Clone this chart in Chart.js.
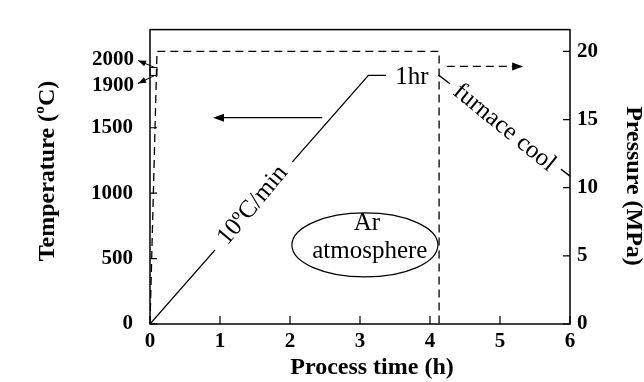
<!DOCTYPE html>
<html>
<head>
<meta charset="utf-8">
<script src="https://cdn.jsdelivr.net/npm/chart.js@4.4.0/dist/chart.umd.min.js"></script>
<style>
  html, body { margin: 0; padding: 0; background: #fff; }
</style>
</head>
<body>
<canvas id="processChart" width="644" height="382"></canvas>
<script>
// Process schedule
const timeTicks = [0, 1, 2, 3, 4, 5, 6];
const tempTicks = [0, 500, 1000, 1500];
const pressureTicks = [0, 5, 10, 15, 20];

// temperature (left axis): heat at 10 C/min, hold 1 h, furnace cool
const tempTime = [0, 3.12, 4.13, 6];
const tempValues = [0, 1900, 1900, 1130];

// pressure (right axis)
const pressureTime = [0, 0.1, 4.13, 4.13];
const pressureValues = [0, 20, 20, 0];

const serif = '"Liberation Serif", "Times New Roman", serif';

// text written along the temperature curve, white box hides the line under it
const curveNotes = [
    { text: '10ºC/min', x: 1.457, y: 912, angle: -50.2, gap: 117 },
    { text: '1hr', x: 3.743, y: 1890, angle: 0, gap: 52 },
    { text: 'furnace cool', x: 5.071, y: 1505, angle: 39.1, gap: 140 }
];

// axis pointers: solid one to temperature, dashed one to pressure
const arrows = [
    { from: [2.46, 1577], to: [0.9, 1577], axis: 'y', dash: [] },
    { from: [4.24, 18.9], to: [5.33, 18.9], axis: 'y2', dash: [8, 5] }
];

const gasLabel = { x: 3.07, y: 604, rx: 73, ry: 32, lines: [['Ar', 3.1, 767], ['atmosphere', 3.14, 557]] };

function toPoints(xs, ys) {
    return xs.map((x, i) => ({ x: x, y: ys[i] }));
}

function arrowHead(ctx, x1, y1, x2, y2, len, half) {
    const a = Math.atan2(y2 - y1, x2 - x1);
    ctx.beginPath();
    ctx.moveTo(x2, y2);
    ctx.lineTo(x2 - len * Math.cos(a) + half * Math.sin(a), y2 - len * Math.sin(a) - half * Math.cos(a));
    ctx.lineTo(x2 - len * Math.cos(a) - half * Math.sin(a), y2 - len * Math.sin(a) + half * Math.cos(a));
    ctx.closePath();
    ctx.fill();
}

const decorations = {
    id: 'decorations',
    afterDatasetsDraw(chart) {
        const ctx = chart.ctx;
        const area = chart.chartArea;
        const sx = chart.scales.x, sy = chart.scales.y, sp = chart.scales.y2;
        ctx.save();
        ctx.strokeStyle = '#000';
        ctx.fillStyle = '#000';

        // frame
        ctx.lineWidth = 1.5;
        ctx.strokeRect(area.left, area.top, area.right - area.left, area.bottom - area.top);

        // inward tick marks
        ctx.lineWidth = 1.2;
        ctx.beginPath();
        sx.ticks.forEach(t => {
            const px = sx.getPixelForValue(t.value);
            ctx.moveTo(px, area.bottom); ctx.lineTo(px, area.bottom - 8);
        });
        sy.ticks.forEach(t => {
            const py = sy.getPixelForValue(t.value);
            ctx.moveTo(area.left, py); ctx.lineTo(area.left + 7, py);
        });
        sp.ticks.forEach(t => {
            const py = sp.getPixelForValue(t.value);
            ctx.moveTo(area.right, py); ctx.lineTo(area.right - 7, py);
        });
        ctx.stroke();

        // 1900 / 2000 bracket with pointers to their labels
        const yLo = sy.getPixelForValue(1900);
        const yHi = sy.getPixelForValue(1960);
        ctx.lineWidth = 1;
        ctx.strokeRect(area.left, yHi, 7, yLo - yHi);
        ctx.beginPath();
        ctx.moveTo(area.left + 5, yHi); ctx.lineTo(area.left - 12, yHi - 7);
        ctx.moveTo(area.left + 5, yLo); ctx.lineTo(area.left - 12, yLo + 8);
        ctx.stroke();
        arrowHead(ctx, area.left + 5, yHi, area.left - 12, yHi - 7, 8, 3);
        arrowHead(ctx, area.left + 5, yLo, area.left - 12, yLo + 8, 8, 3);
        ctx.font = 'bold 21px ' + serif;
        ctx.textAlign = 'right';
        ctx.textBaseline = 'middle';
        ctx.fillText('2000', area.left - 16, yHi - 8);
        ctx.fillText('1900', area.left - 16, yLo + 10);

        // arrows pointing at the axes
        ctx.lineWidth = 1.3;
        arrows.forEach(a => {
            const s = chart.scales[a.axis];
            const x1 = sx.getPixelForValue(a.from[0]), y1 = s.getPixelForValue(a.from[1]);
            const x2 = sx.getPixelForValue(a.to[0]), y2 = s.getPixelForValue(a.to[1]);
            const a0 = Math.atan2(y2 - y1, x2 - x1);
            ctx.setLineDash(a.dash);
            ctx.beginPath();
            ctx.moveTo(x1, y1);
            ctx.lineTo(x2 - 8 * Math.cos(a0), y2 - 8 * Math.sin(a0));
            ctx.stroke();
            ctx.setLineDash([]);
            arrowHead(ctx, x1, y1, x2, y2, 11, 4);
        });

        // notes along the curve
        ctx.font = '25px ' + serif;
        ctx.textAlign = 'center';
        ctx.textBaseline = 'middle';
        curveNotes.forEach(n => {
            const px = sx.getPixelForValue(n.x), py = sy.getPixelForValue(n.y);
            ctx.save();
            ctx.translate(px, py);
            ctx.rotate(n.angle * Math.PI / 180);
            ctx.fillStyle = '#fff';
            ctx.fillRect(-n.gap / 2, -13, n.gap, 26);
            ctx.fillStyle = '#000';
            ctx.fillText(n.text, 0, 1);
            ctx.restore();
        });

        // Ar atmosphere ellipse
        ctx.lineWidth = 1.2;
        ctx.beginPath();
        ctx.ellipse(sx.getPixelForValue(gasLabel.x), sy.getPixelForValue(gasLabel.y), gasLabel.rx, gasLabel.ry, 0, 0, Math.PI * 2);
        ctx.stroke();
        gasLabel.lines.forEach(l => {
            ctx.fillText(l[0], sx.getPixelForValue(l[1]), sy.getPixelForValue(l[2]));
        });

        // axis titles
        ctx.font = 'bold 24px ' + serif;
        ctx.fillText('Process time (h)', 372, 368);
        ctx.save();
        ctx.translate(48, 171);
        ctx.rotate(-Math.PI / 2);
        ctx.fillText('Temperature (ºC)', 0, 0);
        ctx.restore();
        ctx.save();
        ctx.translate(633, 186);
        ctx.rotate(Math.PI / 2);
        ctx.fillText('Pressure (MPa)', 0, 0);
        ctx.restore();

        ctx.restore();
    }
};

function fixedTicks(list) {
    return scale => { scale.ticks = list.map(v => ({ value: v })); };
}

const tickFont = { family: serif, size: 21, weight: 'bold' };
const plainLabel = v => String(v);

const ctx = document.getElementById('processChart').getContext('2d');
const processChart = new Chart(ctx, {
    type: 'scatter',
    data: {
        datasets: [{
            label: 'Temperature',
            data: toPoints(tempTime, tempValues),
            yAxisID: 'y',
            showLine: true,
            borderColor: '#000',
            borderWidth: 1.3,
            pointRadius: 0,
            tension: 0
        }, {
            label: 'Pressure',
            data: toPoints(pressureTime, pressureValues),
            yAxisID: 'y2',
            showLine: true,
            borderColor: '#000',
            borderWidth: 1.3,
            borderDash: [8, 5],
            pointRadius: 0,
            tension: 0
        }]
    },
    options: {
        responsive: false,
        animation: false,
        layout: { autoPadding: false, padding: { top: 11, left: 0, right: 0, bottom: 0 } },
        plugins: {
            legend: { display: false },
            tooltip: { enabled: false }
        },
        scales: {
            x: {
                type: 'linear',
                position: 'bottom',
                min: 0,
                max: 6,
                afterBuildTicks: fixedTicks(timeTicks),
                afterFit: s => { s.height = 58; },
                grid: { display: false, drawTicks: false },
                border: { display: false },
                ticks: { font: tickFont, color: '#000', padding: 5, maxRotation: 0, callback: plainLabel }
            },
            y: {
                position: 'left',
                min: 0,
                max: 2250,
                afterBuildTicks: fixedTicks(tempTicks),
                afterFit: s => { s.width = 150; },
                grid: { display: false, drawTicks: false },
                border: { display: false },
                ticks: { font: tickFont, color: '#000', padding: 17, callback: plainLabel }
            },
            y2: {
                position: 'right',
                min: 0,
                max: 21.6,
                afterBuildTicks: fixedTicks(pressureTicks),
                afterFit: s => { s.width = 74; },
                grid: { display: false, drawTicks: false },
                border: { display: false },
                ticks: { font: tickFont, color: '#000', padding: 7, callback: plainLabel }
            }
        }
    },
    plugins: [decorations]
});
</script>
</body>
</html>
